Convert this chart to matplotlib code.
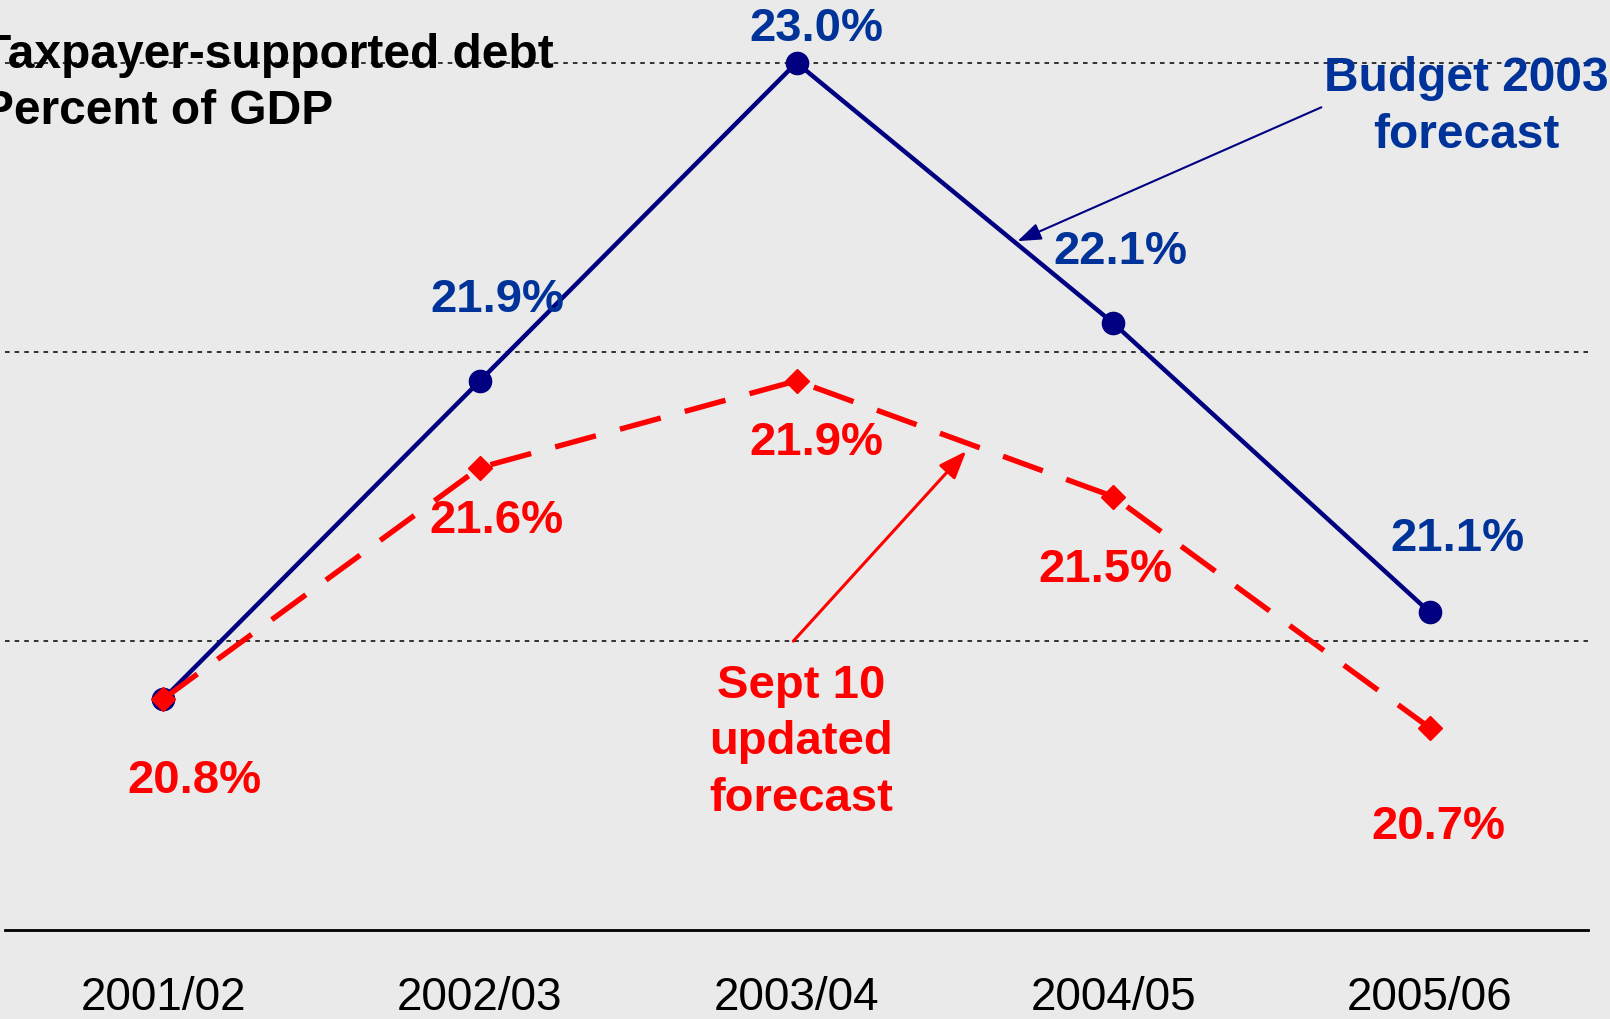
import matplotlib.pyplot as plt

plt.rcParams['font.family'] = ['Liberation Sans', 'DejaVu Sans']

anos = ["2001/02", "2002/03", "2003/04", "2004/05", "2005/06"]
budget_2003 = [20.8, 21.9, 23.0, 22.1, 21.1]
sept_10 = [20.8, 21.6, 21.9, 21.5, 20.7]
grade_y = [21, 22, 23]

AZUL_LINHA = "#000080"
AZUL_TEXTO = "#003399"
VERMELHO = "#FF0000"
FUNDO = "#EAEAEA"

fig = plt.figure(figsize=(16.1, 10.2), dpi=100, facecolor=FUNDO)
ax = fig.add_axes([5 / 1610, 1 - 931.3 / 1020, 1583 / 1610, 931.3 / 1020])
ax.set_facecolor(FUNDO)

x = list(range(len(anos)))

# linhas de grade pontilhadas
for g in grade_y:
    ax.axhline(g, color="black", linewidth=1.1, linestyle=(0, (3, 3.3)), zorder=1)

# serie Budget 2003 (linha solida azul)
ax.plot(x, budget_2003, color=AZUL_LINHA, linewidth=3.2, marker="o", markersize=16, zorder=3)

# serie Sept 10 (tracejada vermelha)
ax.plot(x, sept_10, color=VERMELHO, linewidth=3.9, linestyle=(0, (7.8, 4.6)),
        marker="D", markersize=12, zorder=4)

# rotulos de valor
desloc_azul = [None, (17, 82), (20, 35), (7, 72), (28, 74)]
desloc_verm = [(31, -81), (17, -52), (20, -61), (-8, -72), (9, -98)]
for i in x:
    if desloc_azul[i] is not None:
        ax.annotate(f"{budget_2003[i]:.1f}%", (x[i], budget_2003[i]), xytext=desloc_azul[i],
                    textcoords="offset pixels", ha="center", va="center",
                    fontsize=34, fontweight="bold", color=AZUL_TEXTO, zorder=5)
    ax.annotate(f"{sept_10[i]:.1f}%", (x[i], sept_10[i]), xytext=desloc_verm[i],
                textcoords="offset pixels", ha="center", va="center",
                fontsize=34, fontweight="bold", color=VERMELHO, zorder=5)

# anotacoes com setas
ax.annotate("Budget 2003\nforecast", xy=(2.698, 22.383), xytext=(4.116, 22.85),
            ha="center", va="center", fontsize=34.5, fontweight="bold", color=AZUL_TEXTO,
            linespacing=1.36, annotation_clip=False,
            arrowprops=dict(arrowstyle="-|>,head_length=1.1,head_width=0.4", mutation_scale=13,
                            color=AZUL_LINHA, linewidth=1.5, shrinkA=0, shrinkB=0,
                            relpos=(0.0, 0.5)))
ax.annotate("", xy=(2.536, 21.657), xytext=(1.99, 21.0),
            arrowprops=dict(arrowstyle="-|>,head_length=1.3,head_width=0.5", mutation_scale=13,
                            color=VERMELHO, linewidth=2.2, shrinkA=0, shrinkB=0))
ax.text(2.015, 20.654, "Sept 10\nupdated\nforecast", ha="center", va="center", fontsize=34,
        fontweight="bold", color=VERMELHO, linespacing=1.37)

# titulo no canto superior esquerdo
fig.text(-0.011, 0.918, "Taxpayer-supported debt\nPercent of GDP", ha="left", va="center",
         fontsize=34.5, fontweight="bold", color="black", linespacing=1.33)

ax.set_xlim(-0.5, 4.5)
ax.set_ylim(20, 20 + 931.3 / 289.2)
ax.set_xticks(x, anos, fontsize=33)
ax.set_yticks([])
ax.tick_params(axis="x", length=0, pad=32)
for lado in ["top", "left", "right"]:
    ax.spines[lado].set_visible(False)
ax.spines["bottom"].set_linewidth(2)
ax.spines["bottom"].set_color("black")

fig.savefig("out.png", dpi=100, facecolor=FUNDO)
